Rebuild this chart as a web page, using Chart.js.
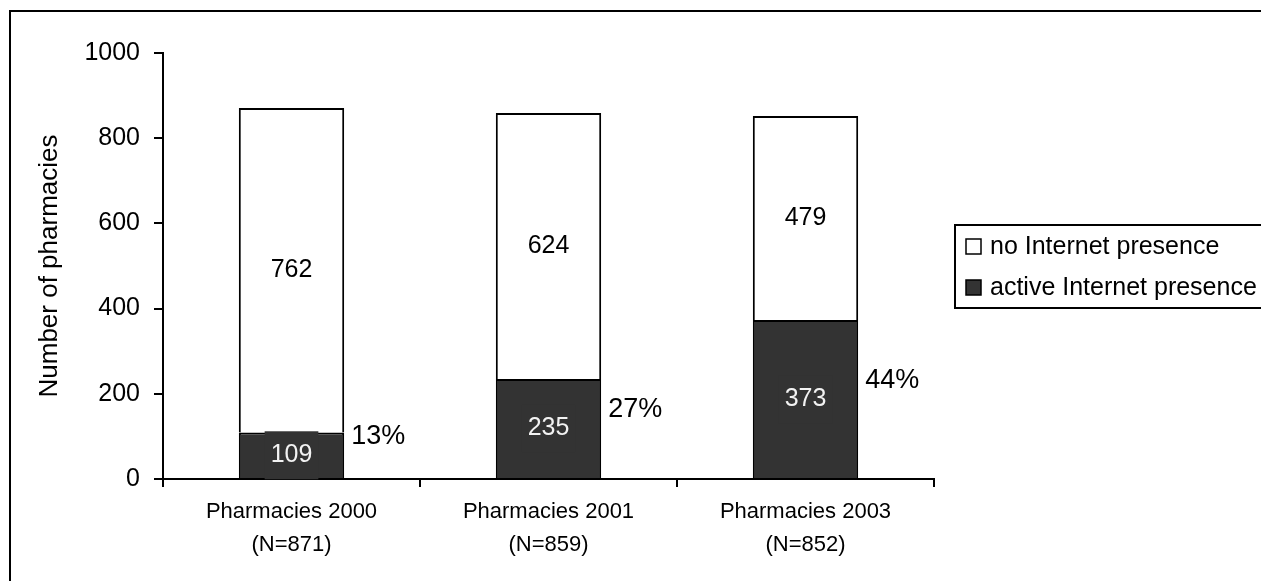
<!DOCTYPE html>
<html>
<head>
<meta charset="utf-8">
<script src="https://cdn.jsdelivr.net/npm/chart.js@4.4.0/dist/chart.umd.min.js"></script>
<style>
  html, body { margin: 0; padding: 0; background: #fff; }
  #wrap { width: 1261px; height: 581px; }
</style>
</head>
<body>
<div id="wrap"><canvas id="chart" width="1261" height="581"></canvas></div>
<script>
const categories = ['Pharmacies 2000', 'Pharmacies 2001', 'Pharmacies 2003'];
const activePresence = [109, 235, 373];
const noPresence = [762, 624, 479];
const yTicks = [0, 200, 400, 600, 800, 1000];
const seriesLabels = ['active Internet presence', 'no Internet presence'];

const darkFill = '#333333';
const plainFont = '"Liberation Sans", Arial, sans-serif';

const totals = activePresence.map((v, i) => v + noPresence[i]);
const xLabels = categories.map((c, i) => [c, `(N=${totals[i]})`]);
const percents = activePresence.map((v, i) => Math.round(v / totals[i] * 100) + '%');

// frame, value labels, percentages and the legend box
const decorations = {
    id: 'decorations',
    beforeDraw(chart) {
        const ctx = chart.ctx;
        ctx.save();
        ctx.strokeStyle = '#000';
        ctx.lineWidth = 2;
        ctx.beginPath();
        ctx.moveTo(10, chart.height);
        ctx.lineTo(10, 11);
        ctx.lineTo(chart.width, 11);
        ctx.stroke();
        ctx.restore();
    },
    afterDatasetsDraw(chart) {
        const ctx = chart.ctx;
        ctx.save();
        ctx.font = `25px ${plainFont}`;
        ctx.textAlign = 'center';
        ctx.textBaseline = 'middle';
        chart.data.datasets.forEach((ds, di) => {
            chart.getDatasetMeta(di).data.forEach((bar, i) => {
                const cy = (bar.y + bar.base) / 2;
                const text = String(ds.data[i]);
                if (di === 0) {
                    const w = ctx.measureText(text).width + 12;
                    ctx.fillStyle = darkFill;
                    ctx.fillRect(bar.x - w / 2, cy - 24, w, 48);
                    ctx.fillStyle = '#f2f2f2';
                } else {
                    ctx.fillStyle = '#000';
                }
                ctx.fillText(text, bar.x, cy);
            });
        });
        // percentages beside the dark segment
        ctx.textAlign = 'left';
        ctx.fillStyle = '#000';
        ctx.font = `27px ${plainFont}`;
        chart.getDatasetMeta(0).data.forEach((bar, i) => {
            const cy = (bar.y + bar.base) / 2 - 19;
            ctx.fillText(percents[i], bar.x + bar.width / 2 + 7, cy);
        });
        ctx.restore();
    },
    afterDraw(chart) {
        const ctx = chart.ctx;
        ctx.save();
        ctx.strokeStyle = '#000';
        ctx.lineWidth = 2;
        ctx.strokeRect(955, 225, 330, 83);
        const rows = [1, 0];
        ctx.font = `25px ${plainFont}`;
        ctx.textAlign = 'left';
        ctx.textBaseline = 'middle';
        rows.forEach((di, r) => {
            const ds = chart.data.datasets[di];
            const cy = 247 + r * 41;
            ctx.fillStyle = ds.backgroundColor;
            ctx.fillRect(966, cy - 8, 15, 15);
            ctx.lineWidth = 1.5;
            ctx.strokeRect(966, cy - 8, 15, 15);
            ctx.fillStyle = '#000';
            ctx.fillText(ds.label, 990, cy);
        });
        ctx.restore();
    }
};

new Chart(document.getElementById('chart').getContext('2d'), {
    type: 'bar',
    data: {
        labels: xLabels,
        datasets: [{
            label: seriesLabels[0],
            data: activePresence,
            backgroundColor: darkFill,
            borderColor: '#000',
            borderWidth: 2,
            borderSkipped: 'start',
            barPercentage: 0.41,
            categoryPercentage: 1
        }, {
            label: seriesLabels[1],
            data: noPresence,
            backgroundColor: '#ffffff',
            borderColor: '#000',
            borderWidth: 2,
            borderSkipped: 'start',
            barPercentage: 0.41,
            categoryPercentage: 1
        }]
    },
    options: {
        responsive: false,
        animation: false,
        layout: { padding: { top: 53, right: 327, bottom: 0, left: 0 } },
        plugins: {
            legend: { display: false },
            tooltip: { enabled: false }
        },
        scales: {
            x: {
                stacked: true,
                grid: { display: true, drawOnChartArea: false, tickLength: 8, color: '#000', lineWidth: 2, offset: true },
                border: { display: true, color: '#000', width: 2 },
                ticks: {
                    color: '#000',
                    font: { family: plainFont, size: 22, lineHeight: 1.5 },
                    padding: 8,
                    maxRotation: 0,
                    autoSkip: false
                },
                afterFit(scale) { scale.height = 102; }
            },
            y: {
                stacked: true,
                min: 0,
                max: 1000,
                afterBuildTicks(scale) { scale.ticks = yTicks.map(v => ({ value: v })); },
                grid: { display: true, drawOnChartArea: false, tickLength: 9, color: '#000', lineWidth: 2 },
                border: { display: true, color: '#000', width: 2 },
                ticks: {
                    color: '#000',
                    font: { family: plainFont, size: 25 },
                    padding: 14,
                    callback: (value) => String(value)
                },
                title: {
                    display: true,
                    text: 'Number of pharmacies',
                    color: '#000',
                    font: { family: plainFont, size: 26 },
                    padding: { top: 34, bottom: 0 }
                },
                afterFit(scale) { scale.width = 163; }
            }
        }
    },
    plugins: [decorations]
});
</script>
</body>
</html>
